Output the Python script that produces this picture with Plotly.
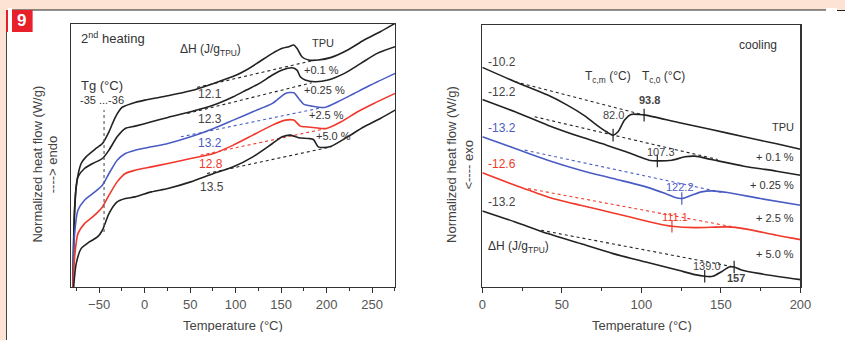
import plotly.graph_objects as go

# ---------------- data: 2nd heating (left) ----------------
h_T_tpu = [-78.7, -77.7, -75.2, -69.8, -64.4, -53.6, -46.4, -39.2, -32.0, -24.8, -14.1, 0.3, 25.5, 50.6, 75.8,
           100.9, 111.7, 126.1, 140.4, 151.2, 158.4, 163.8, 167.4, 172.8, 180.0, 190.7, 205.1, 223.1, 241.1, 259.0, 275.2]
h_y_tpu = [0, 1.6, 3.0, 3.7, 3.9, 4.15, 4.3, 4.65, 5.1, 5.38, 5.5, 5.6, 5.73, 5.88, 6.1,
           6.35, 6.5, 6.75, 7.0, 7.15, 7.2, 7.25, 7.15, 6.9, 6.8, 6.8, 6.88, 7.1, 7.4, 7.65, 7.9]

h_T_01 = [-78.7, -76.9, -73.3, -66.1, -57.1, -46.4, -39.2, -30.2, -21.2, -10.4, 7.5, 25.5, 50.6, 75.8, 97.4,
          111.7, 126.1, 140.4, 151.2, 162.0, 167.4, 171.0, 176.4, 187.2, 201.5, 219.5, 237.5, 255.4, 275.2]
h_y_01 = [0, 2.4, 3.3, 3.55, 3.7, 3.85, 4.1, 4.5, 4.75, 4.82, 4.95, 5.08, 5.25, 5.45, 5.7,
          5.9, 6.1, 6.35, 6.5, 6.57, 6.5, 6.3, 6.2, 6.15, 6.2, 6.4, 6.7, 7.0, 7.2]

h_T_025 = [-78.7, -76.9, -73.3, -66.1, -57.1, -46.4, -39.2, -30.2, -21.2, -10.4, 7.5, 25.5, 50.6, 75.8, 97.4,
           118.9, 140.4, 154.8, 163.8, 169.2, 174.6, 183.6, 197.9, 212.3, 230.3, 248.3, 275.2]
h_y_025 = [0, 1.6, 2.3, 2.6, 2.8, 3.05, 3.4, 3.8, 4.0, 4.1, 4.2, 4.3, 4.5, 4.75, 5.0,
           5.25, 5.5, 5.8, 5.82, 5.65, 5.48, 5.42, 5.38, 5.55, 5.8, 6.05, 6.4]

h_T_25 = [-78.7, -76.9, -73.3, -66.1, -57.1, -46.4, -39.2, -30.2, -21.2, -10.4, 7.5, 25.5, 50.6, 75.8, 97.4,
          118.9, 140.4, 154.8, 163.8, 171.0, 176.4, 187.2, 199.7, 215.9, 233.9, 251.8, 275.2]
h_y_25 = [0, 0.9, 1.6, 1.9, 2.1, 2.4, 2.75, 3.15, 3.4, 3.5, 3.6, 3.7, 3.85, 4.0, 4.25,
          4.55, 4.85, 5.0, 5.0, 4.82, 4.8, 4.77, 4.75, 4.95, 5.25, 5.5, 5.8]

h_T_50 = [-78.0, -75.2, -69.8, -60.8, -51.8, -46.4, -39.2, -30.2, -21.2, -10.4, 7.5, 25.5, 50.6, 75.8, 97.4,
          118.9, 140.4, 151.2, 160.2, 169.2, 180.0, 185.4, 190.7, 196.1, 205.1, 223.1, 241.1, 259.0, 275.2]
h_y_50 = [0, 0.7, 1.15, 1.35, 1.5, 1.7, 2.2, 2.55, 2.65, 2.7, 2.85, 2.95, 3.15, 3.4, 3.6,
          3.9, 4.3, 4.5, 4.55, 4.47, 4.45, 4.42, 4.2, 4.18, 4.22, 4.5, 4.8, 5.05, 5.3]

# dotted baselines (start, end)
h_base_T = [[57.8, 187.2], [47.0, 183.6], [39.8, 196.1], [61.4, 199.7], [68.6, 205.1]]
h_base_y = [[5.98, 6.8], [5.2, 6.12], [4.5, 5.38], [3.95, 4.75], [3.4, 4.2]]
h_dH = ["12.1", "12.3", "13.2", "12.8", "13.5"]
h_dH_pos = [(71.5, 5.78), (72, 5.02), (71.5, 4.32), (73, 3.7), (74, 3.0)]
h_names = ["TPU", "+0.1 %", "+0.25 %", "+2.5 %", "+5.0 %"]
h_name_pos = [(196, 7.3), (194, 6.5), (198, 5.9), (200, 5.15), (207, 4.52)]
tg_T = [-44.6, -44.6]
tg_y = [1.65, 5.3]

# ---------------- data: cooling (right) ----------------
c_T_tpu = [0, 20.6, 41.1, 53.4, 63.7, 71.9, 78.1, 82.2, 85.3, 89.4, 93.5, 98.7, 102.8, 123.3, 143.9, 164.4, 185.0, 200]
c_y_tpu = [6.58, 6.15, 5.75, 5.45, 5.15, 4.85, 4.65, 4.55, 4.65, 5.0, 5.17, 5.17, 5.15, 4.93, 4.72, 4.5, 4.29, 4.13]

c_T_01 = [0, 20.6, 41.1, 61.7, 78.1, 90.4, 98.7, 104.8, 110.0, 119.2, 127.4, 133.6, 143.9, 164.4, 185.0, 200]
c_y_01 = [5.62, 5.25, 4.85, 4.5, 4.25, 4.05, 3.9, 3.8, 3.78, 3.8, 3.9, 3.92, 3.82, 3.62, 3.47, 3.35]

c_T_025 = [0, 20.6, 41.1, 61.7, 82.2, 102.8, 115.1, 121.3, 125.4, 131.6, 137.7, 143.9, 154.2, 174.7, 200]
c_y_025 = [4.5, 4.15, 3.8, 3.5, 3.25, 3.0, 2.8, 2.68, 2.65, 2.75, 2.85, 2.88, 2.83, 2.65, 2.45]

c_T_25 = [0, 20.6, 41.1, 61.7, 82.2, 102.8, 115.1, 119.2, 133.6, 154.2, 164.4, 185.0, 200]
c_y_25 = [3.42, 3.05, 2.7, 2.45, 2.22, 1.98, 1.85, 1.82, 1.78, 1.8, 1.75, 1.55, 1.42]

c_T_50 = [0, 20.6, 41.1, 61.7, 82.2, 102.8, 123.3, 133.6, 139.8, 144.9, 150.1, 155.2, 158.3, 162.4, 174.7, 200]
c_y_50 = [2.28, 1.95, 1.6, 1.3, 1.0, 0.75, 0.5, 0.37, 0.32, 0.32, 0.45, 0.6, 0.6, 0.52, 0.4, 0.22]

c_base_T = [[20.6, 101.7], [32.9, 148.0], [26.7, 152.1], [28.8, 164.4], [37.0, 158.3]]
c_base_y = [[6.15, 5.15], [5.1, 3.82], [4.1, 2.82], [2.95, 1.74], [1.7, 0.6]]
c_mark_T = [[82.2, 101.7], [110.0], [125.4], [119.2], [139.8, 158.3]]
c_mark_y = [[4.55, 5.15], [3.78], [2.65], [1.82], [0.32, 0.6]]
c_dH = ["-10.2", "-12.2", "-13.2", "-12.6", "-13.2"]
c_dH_y = [6.73, 5.85, 4.77, 3.7, 2.55]
c_names = ["TPU", "+ 0.1 %", "+ 0.25 %", "+ 2.5 %", "+ 5.0 %"]
c_name_y = [4.8, 3.9, 3.05, 2.08, 0.98]
c_tc_text = ["82.0", "<b>93.8</b>", "107.3", "122.2", "111.1", "139.0", "<b>157</b>"]
c_tc_pos = [(82.2, 5.15), (104.8, 5.6), (112.6, 4.05), (124.4, 3.0), (121.3, 2.1), (141.4, 0.62), (159.3, 0.28)]
c_tc_col = [0, 0, 1, 2, 3, 4, 4]

colors = ["#222222", "#222222", "#4a5cc4", "#f0392b", "#222222"]
FONT = "Liberation Sans, Arial, sans-serif"
PEACH = "#fde3d3"

# page has an 8 px body margin: figure is sized so that the page is 845 x 340
W, H, OFF = 829, 324, 8
def px(X):
    return (X - OFF) / W
def py(Y):
    return (H + OFF - Y) / H

fig = go.Figure()

heat = [(h_T_tpu, h_y_tpu), (h_T_01, h_y_01), (h_T_025, h_y_025), (h_T_25, h_y_25), (h_T_50, h_y_50)]
cool = [(c_T_tpu, c_y_tpu), (c_T_01, c_y_01), (c_T_025, c_y_025), (c_T_25, c_y_25), (c_T_50, c_y_50)]

for i, (tx, ty) in enumerate(heat):
    fig.add_trace(go.Scatter(x=tx, y=ty, mode="lines", xaxis="x", yaxis="y",
                             line=dict(color=colors[i], width=1.6, shape="spline", smoothing=0.7),
                             showlegend=False))
    fig.add_trace(go.Scatter(x=h_base_T[i], y=h_base_y[i], mode="lines", xaxis="x", yaxis="y",
                             line=dict(color=colors[i], width=1.1, dash="dot"), showlegend=False))
fig.add_trace(go.Scatter(x=tg_T, y=tg_y, mode="lines", xaxis="x", yaxis="y",
                         line=dict(color="#555555", width=1.1, dash="dot"), showlegend=False))

for i, (tx, ty) in enumerate(cool):
    fig.add_trace(go.Scatter(x=tx, y=ty, mode="lines", xaxis="x2", yaxis="y2",
                             line=dict(color=colors[i], width=1.6, shape="spline", smoothing=0.7),
                             showlegend=False))
    fig.add_trace(go.Scatter(x=c_base_T[i], y=c_base_y[i], mode="lines", xaxis="x2", yaxis="y2",
                             line=dict(color=colors[i], width=1.1, dash="dot"), showlegend=False))
    fig.add_trace(go.Scatter(x=c_mark_T[i], y=c_mark_y[i], mode="markers", xaxis="x2", yaxis="y2",
                             marker=dict(symbol="line-ns", size=9, line=dict(color=colors[i], width=1.2)),
                             showlegend=False))

ann = []
def A(x, y, text, xref="x", yref="y", size=11, color="#333333", xanchor="center", **kw):
    ann.append(dict(x=x, y=y, xref=xref, yref=yref, text=text, showarrow=False,
                    font=dict(family=FONT, size=size, color=color), xanchor=xanchor, yanchor="middle", **kw))

# left annotations
A(-72, 7.45, "2<sup>nd</sup> heating", size=13, xanchor="left")
A(72, 7.1, "ΔH (J/g<sub>TPU</sub>)", size=12)
A(-72, 6.05, "Tg (°C)", size=13, xanchor="left")
A(-73, 5.6, "-35 ...-36", size=11, xanchor="left")
for i in range(5):
    A(h_dH_pos[i][0], h_dH_pos[i][1], h_dH[i], size=12, color=colors[i] if i in (2, 3) else "#444444")
    A(h_name_pos[i][0], h_name_pos[i][1], h_names[i], size=11)

# right annotations
A(173, 7.25, "cooling", xref="x2", yref="y2", size=12)
A(79, 6.3, "T<sub>c,m</sub> (°C)", xref="x2", yref="y2", size=12)
A(114, 6.3, "T<sub>c,0</sub> (°C)", xref="x2", yref="y2", size=12)
A(2, 1.2, "ΔH (J/g<sub>TPU</sub>)", xref="x2", yref="y2", size=12, xanchor="left")
for i in range(5):
    A(2, c_dH_y[i], c_dH[i], xref="x2", yref="y2", size=12,
      color=colors[i] if i in (2, 3) else "#444444", xanchor="left")
    A(197, c_name_y[i], c_names[i], xref="x2", yref="y2", size=11, xanchor="right")
for k in range(len(c_tc_text)):
    ci = c_tc_col[k]
    A(c_tc_pos[k][0], c_tc_pos[k][1], c_tc_text[k], xref="x2", yref="y2", size=11,
      color=colors[ci] if ci in (2, 3) else "#444444")

# axis titles (paper)
def P(X, Y, text, size=13, angle=0, color="#444444"):
    ann.append(dict(x=px(X), y=py(Y), xref="paper", yref="paper", text=text, showarrow=False,
                    textangle=angle, font=dict(family=FONT, size=size, color=color),
                    xanchor="center", yanchor="middle"))

P(33, 164, "Normalized heat flow (W/g)", angle=-90)
P(49, 165, "----> endo", angle=-90)
P(233, 325, "Temperature (°C)")
P(455, 164, "Normalized heat flow (W/g)", angle=-90)
P(472, 165, "<---- exo", angle=-90)
P(650, 325, "Temperature (°C)")
ann.append(dict(x=px(17.5), y=py(21), xref="paper", yref="paper", text="<b>9</b>",
                showarrow=False, font=dict(family=FONT, size=17, color="white"),
                xanchor="center", yanchor="middle"))

top = py(10)
shapes = [
    dict(type="rect", xref="paper", yref="paper", x0=0, x1=1, y0=top, y1=1,
         fillcolor=PEACH, line=dict(width=0), layer="below"),
    dict(type="line", xref="paper", yref="paper", x0=0, x1=1, y0=top, y1=top,
         line=dict(color="#222222", width=1)),
    dict(type="rect", xref="paper", yref="paper", x0=0, x1=px(29), y0=py(32),
         y1=top, fillcolor="#e8202a", line=dict(width=0)),
]

axis_common = dict(showgrid=False, zeroline=False, showline=True, linecolor="#333333", linewidth=1.3,
                   mirror=True, ticks="outside", ticklen=5, tickwidth=1, tickcolor="#333333",
                   tickfont=dict(family=FONT, size=13, color="#555555"))
yaxis_common = dict(showticklabels=False, showgrid=False, zeroline=False, showline=True,
                    linecolor="#333333", linewidth=1.3, mirror=True, ticks="")

fig.update_layout(
    width=W, height=H, autosize=False, margin=dict(l=0, r=0, t=0, b=0),
    paper_bgcolor="white", plot_bgcolor="white",
    xaxis=dict(domain=[px(68), px(398)], range=[-81, 275], tick0=0, dtick=50,
               minor=dict(dtick=25, ticks="outside", ticklen=3, tickcolor="#333333"),
               anchor="y", **axis_common),
    yaxis=dict(domain=[py(287), py(24)], range=[0, 7.88], anchor="x", **yaxis_common),
    xaxis2=dict(domain=[px(487), px(811)], range=[0, 200], tick0=0, dtick=50,
                minor=dict(dtick=25, ticks="outside", ticklen=3, tickcolor="#333333"),
                anchor="y2", **axis_common),
    yaxis2=dict(domain=[py(287), py(25)], range=[0, 7.85], anchor="x2", **yaxis_common),
    annotations=ann, shapes=shapes,
)

page_bg = ",".join([
    "linear-gradient(#e8202a,#e8202a) 6px 10px/3px 22px no-repeat",
    "linear-gradient(#222,#222) 6px 10px/100% 1px no-repeat",
    "linear-gradient(#444,#444) 6px 10px/1px 100% no-repeat",
    "linear-gradient(%s,%s) 0 0/100%% 10px no-repeat" % (PEACH, PEACH),
    "linear-gradient(%s,%s) 0 0/6px 100%% no-repeat" % (PEACH, PEACH),
    "#ffffff",
])
fig.write_html("out.html", config={"responsive": False, "displayModeBar": False, "staticPlot": True},
               post_script="document.body.style.background='%s';document.body.style.overflow='hidden';" % page_bg)
